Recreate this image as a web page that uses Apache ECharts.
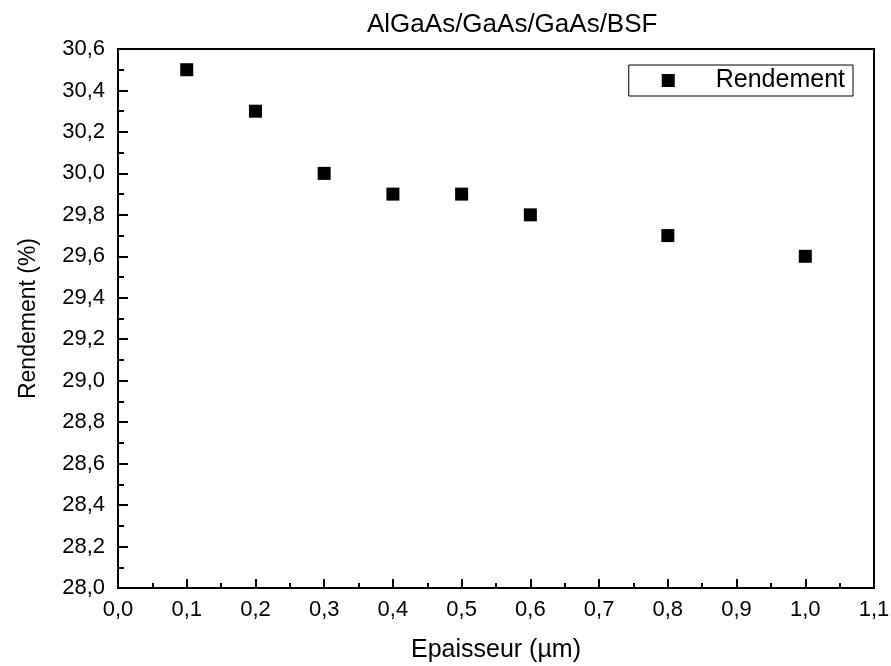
<!DOCTYPE html>
<html>
<head>
<meta charset="utf-8">
<script src="https://cdn.jsdelivr.net/npm/echarts@6/dist/echarts.min.js"></script>
<style>
  html, body { margin: 0; padding: 0; background: #fff; }
  #main { width: 891px; height: 666px; }
</style>
</head>
<body>
<div id="main"></div>
<script>
// epaisseur (µm) et rendement (%)
var epaisseur = [0.1, 0.2, 0.3, 0.4, 0.5, 0.6, 0.8, 1.0];
var rendement = [30.5, 30.3, 30.0, 29.9, 29.9, 29.8, 29.7, 29.6];

var FONT = '"Liberation Sans", Arial, sans-serif';

function virgule(v, d) {
  return v.toFixed(d).replace('.', ',');
}

var myChart = echarts.init(document.getElementById('main'));

var points = epaisseur.map(function (x, i) { return [x, rendement[i]]; });

var option = {
  backgroundColor: '#fff',
  animation: false,
  title: {
    text: 'AlGaAs/GaAs/GaAs/BSF',
    left: 362,
    top: 7,
    textStyle: { fontFamily: FONT, fontSize: 26, fontWeight: 'normal', color: '#000' }
  },
  legend: {
    data: ['Rendement'],
    right: 38,
    top: 65,
    icon: 'rect',
    itemWidth: 13,
    itemHeight: 13,
    padding: [3, 8, 3, 33],
    borderColor: '#000',
    borderWidth: 1,
    textStyle: { fontFamily: FONT, fontSize: 25, color: '#000', padding: [0, 0, 0, 36] }
  },
  grid: {
    left: 118,
    right: 17,
    top: 49,
    bottom: 78,
    outerBoundsMode: 'none',
    containLabel: false,
    show: true,
    borderColor: '#000',
    borderWidth: 2
  },
  xAxis: {
    type: 'value',
    min: 0,
    max: 1.1,
    interval: 0.1,
    name: 'Epaisseur (µm)',
    nameLocation: 'middle',
    nameGap: 50,
    nameTextStyle: { fontFamily: FONT, fontSize: 25, color: '#000' },
    axisLine: { show: true, lineStyle: { color: '#000', width: 2 } },
    axisTick: { show: true, inside: true, length: 9, lineStyle: { color: '#000', width: 2 } },
    minorTick: { show: true, splitNumber: 2, length: 5, lineStyle: { color: '#000', width: 2 } },
    splitLine: { show: false },
    axisLabel: {
      margin: 11,
      fontFamily: FONT,
      fontSize: 22,
      color: '#000',
      formatter: function (v) { return virgule(v, 1); }
    }
  },
  yAxis: {
    type: 'value',
    min: 28.0,
    max: 30.6,
    interval: 0.2,
    name: 'Rendement (%)',
    nameLocation: 'middle',
    nameGap: 78,
    nameTextStyle: { fontFamily: FONT, fontSize: 23, color: '#000' },
    axisLine: { show: true, lineStyle: { color: '#000', width: 2 } },
    axisTick: { show: true, inside: true, length: 10, lineStyle: { color: '#000', width: 2 } },
    minorTick: { show: true, splitNumber: 2, length: 6, lineStyle: { color: '#000', width: 2 } },
    splitLine: { show: false },
    axisLabel: {
      margin: 13,
      fontFamily: FONT,
      fontSize: 22,
      color: '#000',
      formatter: function (v) { return virgule(v, 1); }
    }
  },
  series: [
    {
      name: 'Rendement',
      type: 'scatter',
      symbol: 'rect',
      symbolSize: 13,
      itemStyle: { color: '#000', opacity: 1 },
      data: points
    }
  ]
};
myChart.setOption(option);
</script>
</body>
</html>
